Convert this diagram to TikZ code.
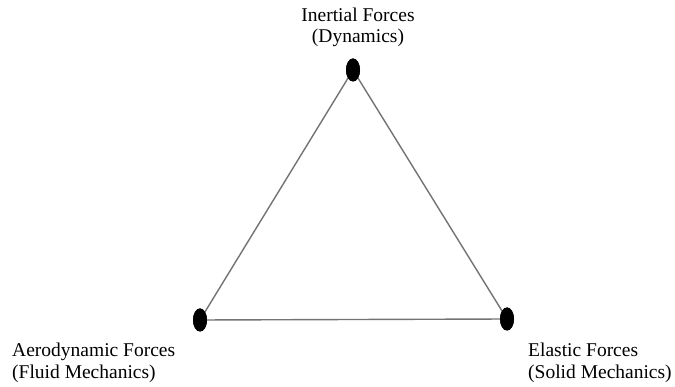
\documentclass[tikz,border=0pt]{standalone}
\usepackage{fontspec}
\setmainfont{Liberation Serif}
\usetikzlibrary{shapes.geometric}
\begin{document}
\begin{tikzpicture}[x=1pt,y=-1pt,
  vertex/.style={ellipse,fill=black,inner sep=0pt,minimum width=14pt,minimum height=23pt},
  edge/.style={draw=black!55,line width=1.4pt},
  lbl/.style={font=\fontsize{19.5}{21}\selectfont,inner sep=0pt}]
\useasboundingbox (0,0) rectangle (675,387);
\node[vertex] (top) at (353,70) {};
\node[vertex] (left) at (200,320) {};
\node[vertex] (right) at (507,319) {};
\draw[edge] (top.center) -- (left.center) -- (right.center) -- (top.center);
\node[vertex] at (353,70) {};
\node[vertex] at (200,320) {};
\node[vertex] at (507,319) {};
\node[lbl,align=center,anchor=base] (tl) at (358,43) {Inertial Forces\\(Dynamics)};
\node[lbl,align=left,anchor=base west] (ll) at (12,378) {Aerodynamic Forces\\(Fluid Mechanics)};
\node[lbl,align=left,anchor=base west] (rl) at (528,378) {Elastic Forces\\(Solid Mechanics)};
\end{tikzpicture}
\end{document}
